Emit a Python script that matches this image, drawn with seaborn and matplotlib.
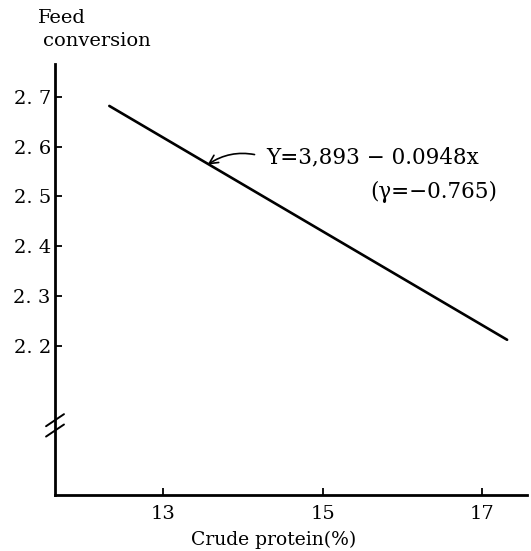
import seaborn as sns
import matplotlib.pyplot as plt
import numpy as np
import pandas as pd

# regression line end points
protein = [12.33, 17.31]
feed_conv = [2.682, 2.212]

x_ticks = [13, 15, 17]
y_ticks = [2.2, 2.3, 2.4, 2.5, 2.6, 2.7]
y_tick_labels = ['2. 2', '2. 3', '2. 4', '2. 5', '2. 6', '2. 7']

sns.set_style('white')
plt.rcParams['font.family'] = ['DejaVu Serif']
plt.rcParams.update({'text.color': 'black', 'axes.labelcolor': 'black',
                     'xtick.color': 'black', 'ytick.color': 'black'})

data = pd.DataFrame({'protein': protein, 'feed': feed_conv})

fig = plt.figure(figsize=(5.31, 5.51), dpi=100)
ax = fig.add_axes([0.1036, 0.1016, 0.889, 0.782])
sns.lineplot(data=data, x='protein', y='feed', color='black', linewidth=1.9, ax=ax)

ax.set_xlim(11.65, 17.56)
ax.set_ylim(1.9, 2.766)
ax.set_xticks(x_ticks)
ax.set_xticklabels([str(t) for t in x_ticks], fontsize=14)
ax.set_yticks(y_ticks)
ax.set_yticklabels(y_tick_labels, fontsize=14)
ax.tick_params(bottom=True, left=True, direction='in', length=5, width=1.3, pad=3)
ax.tick_params(axis='x', pad=7)
ax.set_xlabel('')
ax.set_ylabel('')
sns.despine(ax=ax)
for s in ['left', 'bottom']:
    ax.spines[s].set_color('black')
    ax.spines[s].set_linewidth(2.0)

# axis break marks
brk = (2.04 - 1.9) / (2.766 - 1.9)
for dy in (-0.012, 0.012):
    ax.plot([-0.019, 0.019], [brk + dy - 0.014, brk + dy + 0.014], transform=ax.transAxes,
            color='black', linewidth=1.4, clip_on=False)

fig.text(0.072, 0.967, 'Feed', fontsize=14, va='center', ha='left')
fig.text(0.081, 0.926, 'conversion', fontsize=14, va='center', ha='left')
fig.text(0.515, 0.02, 'Crude protein(%)', fontsize=13.5, va='center', ha='center')

ax.annotate('Y=3,893 − 0.0948x', xy=(13.56, 2.564), xytext=(14.29, 2.578),
            fontsize=15.5, va='center', ha='left',
            arrowprops=dict(arrowstyle='->', color='black', lw=1.2, relpos=(0, 0.5),
                            connectionstyle='arc3,rad=0.25', shrinkA=6, shrinkB=0))
ax.text(16.39, 2.51, '(γ=−0.765)', fontsize=15.5, va='center', ha='center')

fig.savefig('out.png', dpi=100, facecolor='white')
